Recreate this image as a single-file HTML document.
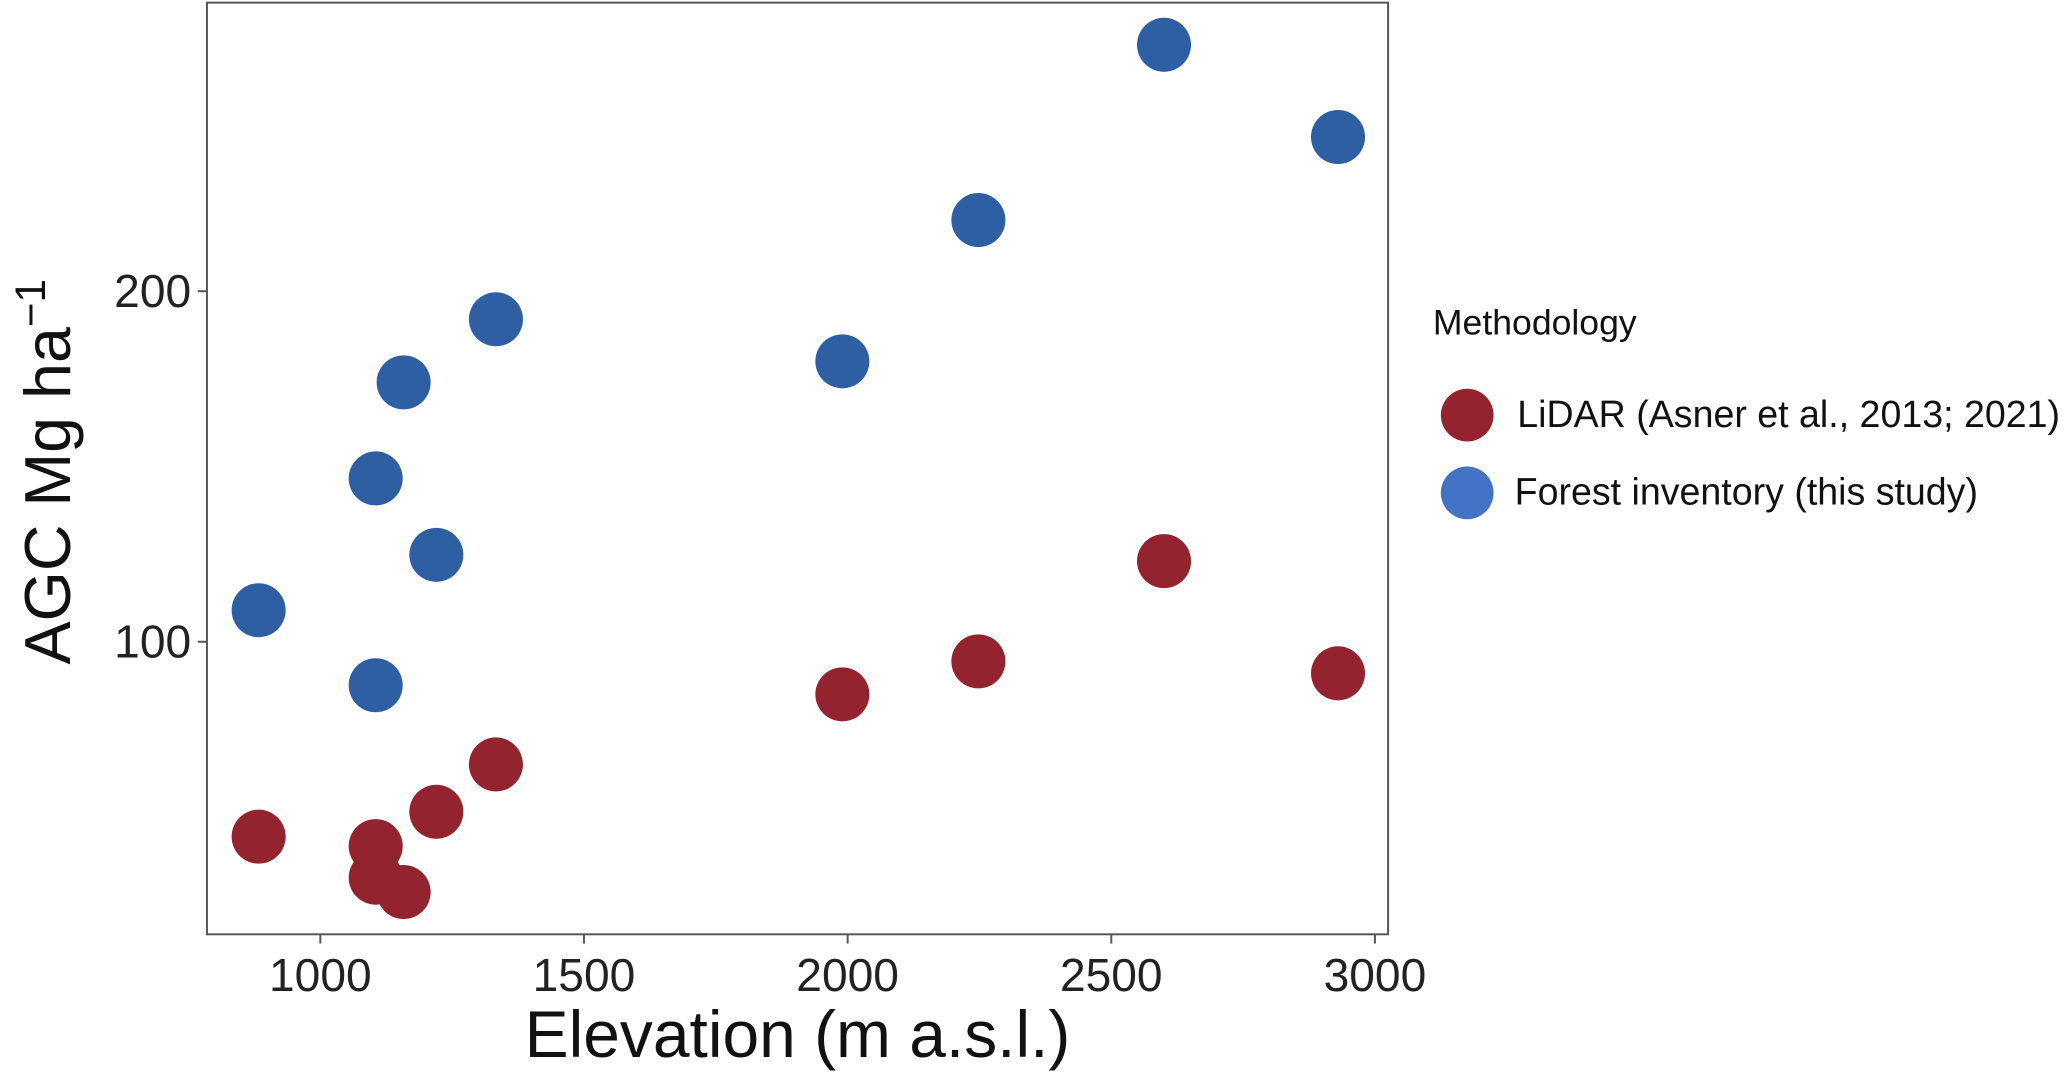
<!DOCTYPE html>
<html><head><meta charset="utf-8"><style>html,body{margin:0;padding:0;background:#fff}svg{display:block}</style></head>
<body>
<svg id="chart" width="2067" height="1074" viewBox="0 0 1568 815" preserveAspectRatio="none" xmlns="http://www.w3.org/2000/svg" font-family="Liberation Sans, sans-serif">
<rect x="157" y="2" width="896" height="707" fill="#fff" stroke="#555" stroke-width="1.5"/>
<g id="xticks"></g>
<g id="yticks"></g>
<g id="points"></g>
<text x="605" y="802" font-size="50" text-anchor="middle" fill="#111">Elevation (m a.s.l.)</text>
<text transform="translate(53,358) rotate(-90)" font-size="49" text-anchor="middle" fill="#111">AGC Mg ha<tspan font-size="32" dy="-19">−1</tspan></text>
<g>
<text x="1087" y="254" font-size="27" fill="#111">Methodology</text>
<circle cx="1113" cy="315" r="20" fill="#93232e"/>
<text x="1151" y="324" font-size="28.5" fill="#111">LiDAR (Asner et al., 2013; 2021)</text>
<circle cx="1113" cy="374" r="20" fill="#4472c4"/>
<text x="1149" y="383" font-size="28.5" fill="#111">Forest inventory (this study)</text>
</g>
</svg>
<script>
const xTicks=[1000,1500,2000,2500,3000];
const yTicks=[100,200];
const elevation=[883,1105,1105,1158,1220,1333,1990,2248,2600,2930];
const lidarAGC=[44.4,41.7,32.7,28.6,51.5,65,85,94.4,123,91];
const inventoryAGC=[109,146.6,87.6,174,124.8,192,180,220.3,270.3,244];
const sx=v=>243+(v-1000)*0.4;
const sy=v=>487-(v-100)*2.66;
const NS='http://www.w3.org/2000/svg';
function mk(t,a,p){const e=document.createElementNS(NS,t);for(const k in a)e.setAttribute(k,a[k]);p.appendChild(e);return e;}
const gx=document.getElementById('xticks'),gy=document.getElementById('yticks'),gp=document.getElementById('points');
xTicks.forEach(v=>{
 const l=mk('line',{x1:sx(v),x2:sx(v),y1:709,y2:716,stroke:'#555','stroke-width':1.5},gx);
 
 
 const t=mk('text',{x:sx(v),y:752,'font-size':35,'text-anchor':'middle',fill:'#222'},gx);t.textContent=v;
 
 
});
yTicks.forEach(v=>{
 const l=mk('line',{x1:150,x2:157,y1:sy(v),y2:sy(v),stroke:'#555','stroke-width':1.5},gy);
 
 
 const t=mk('text',{x:145,y:sy(v)+12,'font-size':35,'text-anchor':'end',fill:'#222'},gy);t.textContent=v;
 
 
});
elevation.forEach((x,i)=>{
 const c=mk('circle',{cx:sx(x),cy:sy(inventoryAGC[i]),r:20.5,fill:'#2e5fa3'},gp);
 
 
});
elevation.forEach((x,i)=>{
 const c=mk('circle',{cx:sx(x),cy:sy(lidarAGC[i]),r:20.5,fill:'#93232e'},gp);
 
 
});
</script>
</body></html>
